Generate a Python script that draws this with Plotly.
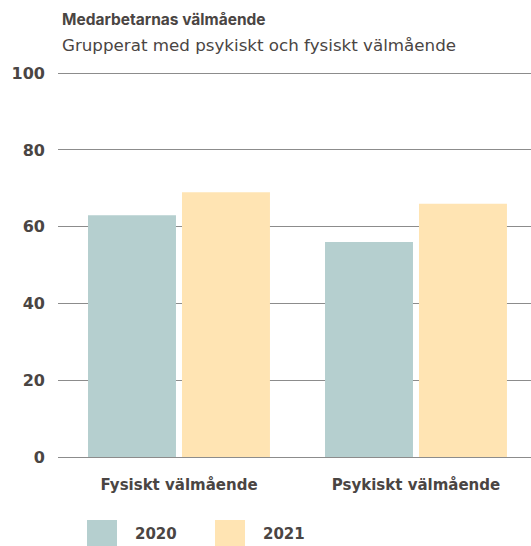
import plotly.graph_objects as go

categories = ["Fysiskt välmående", "Psykiskt välmående"]
series_names = ["2020", "2021"]
values_2020 = [63, 56]
values_2021 = [69, 66]
colors = ["#b5cfcf", "#ffe4b3"]
y_ticks = [0, 20, 40, 60, 80, 100]

title = "Medarbetarnas välmående"
subtitle = "Grupperat med psykiskt och fysiskt välmående"

text_color = "#4a4543"
font_family = "DejaVu Sans, sans-serif"

W, H = 531, 546
L, R, T, B = 58, 0, 72, 89
PW, PH = W - L - R, H - T - B


def px(x):
    return (x - L) / PW


def py(y):
    return (H - B - y) / PH


fig = go.Figure()
for name, vals, col in zip(series_names, [values_2020, values_2021], colors):
    fig.add_trace(go.Bar(x=categories, y=vals, name=name, marker=dict(color=col, line=dict(width=0)),
                         showlegend=False, hoverinfo="skip"))

fig.update_layout(
    width=W, height=H,
    margin=dict(l=L, r=R, t=T, b=B),
    paper_bgcolor="white", plot_bgcolor="white",
    barmode="group", bargap=0.207, bargroupgap=0.064,
    font=dict(family=font_family, color=text_color, size=15),
    xaxis=dict(showgrid=False, showline=False, zeroline=False, ticks="", automargin=False,
               range=[-0.5105, 1.4853],
               tickfont=dict(size=15, color=text_color, weight="bold"), ticklabelstandoff=17),
    yaxis=dict(range=[0, 100.3], tickvals=y_ticks, showgrid=True, gridcolor="#8c8c8c", gridwidth=1,
               zeroline=True, zerolinecolor="#8c8c8c", zerolinewidth=1, showline=False, ticks="",
               automargin=False,
               tickfont=dict(size=16, color=text_color, weight="bold"), ticklabelstandoff=12),
)

fig.add_annotation(text="<b>" + title + "</b>", xref="paper", yref="paper", x=px(60), y=py(20),
                   xanchor="left", yanchor="middle", showarrow=False,
                   font=dict(size=15.5, color=text_color, family="Inter, DejaVu Sans, sans-serif"))
fig.add_annotation(text=subtitle, xref="paper", yref="paper", x=px(60), y=py(45),
                   xanchor="left", yanchor="middle", showarrow=False,
                   font=dict(size=16.7, color=text_color))

# custom legend
leg_x = [87, 215]
for i, (name, col) in enumerate(zip(series_names, colors)):
    x0 = leg_x[i]
    fig.add_shape(type="rect", xref="paper", yref="paper",
                  x0=px(x0), x1=px(x0 + 30), y0=py(546), y1=py(520),
                  fillcolor=col, line=dict(width=0))
    fig.add_annotation(text="<b>" + name + "</b>", xref="paper", yref="paper",
                       x=px(x0 + 46), y=py(534), xanchor="left", yanchor="middle",
                       showarrow=False, font=dict(size=15, color=text_color))

fig.write_html("out.html", config={"displayModeBar": False},
               post_script="document.body.style.margin='0';")
